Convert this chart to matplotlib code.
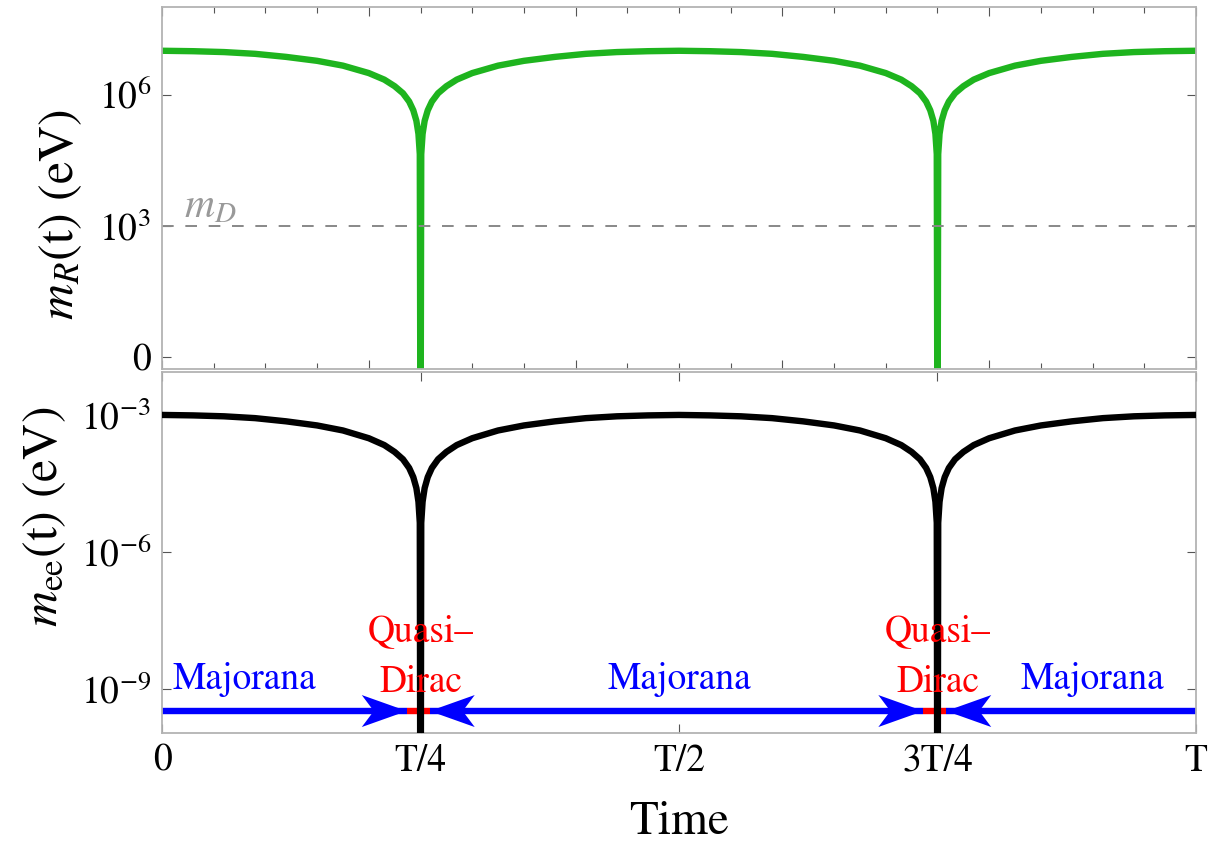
import numpy as np
import matplotlib
matplotlib.use("Agg")
import matplotlib.pyplot as plt
from matplotlib.patches import Polygon
from matplotlib.transforms import ScaledTranslation

plt.rcParams['font.family'] = 'STIXGeneral'
plt.rcParams['mathtext.fontset'] = 'stix'

# time in units of the period T
t_frac = [0.000, 0.030, 0.060, 0.090, 0.120, 0.150, 0.175, 0.200, 0.215, 0.225, 0.233, 0.239, 0.243, 0.246, 0.248, 0.2493,
          0.250,
          0.2507, 0.252, 0.254, 0.257, 0.261, 0.267, 0.275, 0.285, 0.300, 0.325, 0.350, 0.380, 0.410, 0.440, 0.470, 0.500,
          0.530, 0.560, 0.590, 0.620, 0.650, 0.675, 0.700, 0.715, 0.725, 0.733, 0.739, 0.743, 0.746, 0.748, 0.7493,
          0.750,
          0.7507, 0.752, 0.754, 0.757, 0.761, 0.767, 0.775, 0.785, 0.800, 0.825, 0.850, 0.880, 0.910, 0.940, 0.970, 1.000]

# log10 of m_R(t) in eV (the dip goes off the bottom of the axis)
log_mR = [7.00, 6.99, 6.97, 6.93, 6.86, 6.77, 6.66, 6.49, 6.34, 6.19, 6.03, 5.84, 5.64, 5.40, 5.10, 4.64,
          -3.0,
          4.64, 5.10, 5.40, 5.64, 5.84, 6.03, 6.19, 6.34, 6.49, 6.66, 6.77, 6.86, 6.93, 6.97, 6.99, 7.00,
          6.99, 6.97, 6.93, 6.86, 6.77, 6.66, 6.49, 6.34, 6.19, 6.03, 5.84, 5.64, 5.40, 5.10, 4.64,
          -3.0,
          4.64, 5.10, 5.40, 5.64, 5.84, 6.03, 6.19, 6.34, 6.49, 6.66, 6.77, 6.86, 6.93, 6.97, 6.99, 7.00]

# log10 of m_ee(t) in eV
log_mee = [-3.00, -3.01, -3.03, -3.07, -3.14, -3.23, -3.34, -3.51, -3.66, -3.81, -3.97, -4.16, -4.36, -4.60, -4.90, -5.36,
           -15.0,
           -5.36, -4.90, -4.60, -4.36, -4.16, -3.97, -3.81, -3.66, -3.51, -3.34, -3.23, -3.14, -3.07, -3.03, -3.01, -3.00,
           -3.01, -3.03, -3.07, -3.14, -3.23, -3.34, -3.51, -3.66, -3.81, -3.97, -4.16, -4.36, -4.60, -4.90, -5.36,
           -15.0,
           -5.36, -4.90, -4.60, -4.36, -4.16, -3.97, -3.81, -3.66, -3.51, -3.34, -3.23, -3.14, -3.07, -3.03, -3.01, -3.00]

m_D = 1e3  # eV

# regime bar
regime_level = -9.48
qd_start = [0.2367, 0.7363]
qd_end = [0.2589, 0.7585]
majorana_x = [0.080, 0.500, 0.900]
qd_x = [0.25, 0.75]

x_ticks = [0, 0.25, 0.5, 0.75, 1.0]
x_labels = ['0', 'T/4', 'T/2', '3T/4', 'T']

t = np.array(t_frac)
mR = 10.0 ** np.array(log_mR)
mee = 10.0 ** np.array(log_mee)

fig = plt.figure(figsize=(12.22, 8.52), dpi=100)
ax1 = fig.add_axes([0.1326, 0.5669, 0.8461, 0.4249])
ax2 = fig.add_axes([0.1326, 0.1397, 0.8461, 0.4237])

frame_col = '#b3b3b3'
tick_col = '#555555'
for ax in (ax1, ax2):
    ax.set_yscale('log')
    ax.set_xlim(0, 1)
    for s in ax.spines.values():
        s.set_color(frame_col)
        s.set_linewidth(1.3)
    ax.yaxis.set_minor_locator(matplotlib.ticker.NullLocator())
    ax.tick_params(which='both', direction='in', top=True, right=True, color=tick_col,
                   width=0.8, labelsize=27, pad=8)
    ax.tick_params(which='major', length=6.5)
    ax.tick_params(which='minor', length=4.3)

# top panel
ax1.plot(t, mR, color='#1eb41e', lw=4.6, solid_joinstyle='round')
ax1.axhline(m_D, color='#888888', lw=1.4, dashes=(6, 6))
ax1.text(0.021, 10 ** 3.2, '$m_D$', color='#999999', fontsize=30, ha='left', va='baseline')
ax1.set_ylim(10 ** -0.27, 10 ** 8.0)
ax1.set_yticks([1, 1e3, 1e6])
ax1.set_yticklabels(['0', '$10^{3}$', '$10^{6}$'])
ax1.set_xticks(np.arange(0, 1.01, 0.2))
ax1.set_xticks(np.arange(0, 1.01, 0.05), minor=True)
ax1.tick_params(which='both', labelbottom=False)
ax1.set_ylabel('$m_R$(t) (eV)', fontsize=36)
ax1.yaxis.set_label_coords(-0.098, 0.425)
ax1.yaxis.label.set_va('center')

# bottom panel
ax2.set_ylim(10 ** -9.96, 10 ** -2.06)
ax2.set_yticks([1e-9, 1e-6, 1e-3])
ax2.set_yticklabels(['$10^{-9}$', '$10^{-6}$', '$10^{-3}$'])
ax2.set_xticks(x_ticks)
ax2.set_xticklabels(x_labels)
ax2.xaxis.set_minor_locator(matplotlib.ticker.NullLocator())
ax2.set_ylabel('$m_{\\rm ee}$(t) (eV)', fontsize=36)
ax2.yaxis.set_label_coords(-0.113, 0.60)
ax2.yaxis.label.set_va('center')
ax2.set_xlabel('Time', fontsize=34)
ax2.xaxis.set_label_coords(0.5, -0.249)
ax2.xaxis.label.set_va('center')

lvl = 10 ** regime_level
blue = '#0000ff'
red = '#ff0000'
edges = [0.0] + [v for pair in zip(qd_start, qd_end) for v in pair] + [1.0]
for i in range(0, len(edges), 2):
    ax2.plot([edges[i], edges[i + 1]], [lvl, lvl], color=blue, lw=4.6, solid_capstyle='butt')
for a, b in zip(qd_start, qd_end):
    ax2.plot([a, b], [lvl, lvl], color=red, lw=4.6, solid_capstyle='butt', zorder=3)

# notched arrowheads, size in inches
head_r = [(0, 0), (-0.45, 0.16), (-0.33, 0), (-0.45, -0.16)]
head_l = [(-x, y) for x, y in head_r]
for a, b in zip(qd_start, qd_end):
    tr = fig.dpi_scale_trans + ScaledTranslation(a, lvl, ax2.transData)
    ax2.add_patch(Polygon(head_r, closed=True, facecolor=blue, edgecolor='none', transform=tr, zorder=3))
    tr = fig.dpi_scale_trans + ScaledTranslation(b, lvl, ax2.transData)
    ax2.add_patch(Polygon(head_l, closed=True, facecolor=blue, edgecolor='none', transform=tr, zorder=3))

ax2.plot(t, mee, color='black', lw=4.6, solid_joinstyle='round', zorder=4)

for x in majorana_x:
    ax2.text(x, 1e-9, 'Majorana', color=blue, fontsize=27, ha='center', va='baseline', zorder=6)
for x in qd_x:
    ax2.text(x, 10 ** -7.94, 'Quasi\u2013', color=red, fontsize=27, ha='center', va='baseline', zorder=6)
    ax2.text(x, 10 ** -9.06, 'Dirac', color=red, fontsize=27, ha='center', va='baseline', zorder=6)

fig.savefig('out.png', dpi=100)
